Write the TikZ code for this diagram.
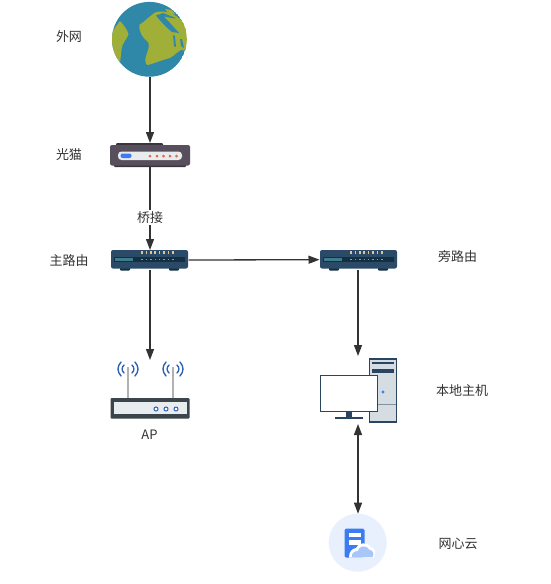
\documentclass[tikz,border=0pt]{standalone}
\usepackage{fontspec}
\setmainfont{Noto Sans CJK SC}
\usetikzlibrary{arrows.meta}
\definecolor{ink}{HTML}{333333}
\definecolor{sea}{HTML}{2F88A8}
\definecolor{land}{HTML}{A0AF38}
\definecolor{modemc}{HTML}{574F5B}
\definecolor{modemd}{HTML}{3A3340}
\definecolor{swc}{HTML}{2A4A68}
\definecolor{swd}{HTML}{12303F}
\definecolor{swl}{HTML}{3F7C8C}
\definecolor{led}{HTML}{E3C48F}
\definecolor{wifi}{HTML}{2F62B5}
\definecolor{apd}{HTML}{3A464C}
\definecolor{apl}{HTML}{E9ECEE}
\definecolor{pcb}{HTML}{2A4560}
\definecolor{pcg}{HTML}{D5DDE2}
\definecolor{cloudbg}{HTML}{E8F0FE}
\definecolor{docb}{HTML}{3B7DF0}
\definecolor{cloudl}{HTML}{A9C6F8}
\definecolor{dotc}{HTML}{E0683C}
\tikzset{
  anchorbox/.style={inner sep=0pt,outer sep=0pt,draw=none},
  lbl/.style={inner sep=0pt,text=ink,font=\fontsize{13}{15}\selectfont},
  conn/.style={draw=ink,line width=1.3pt,-{Triangle[length=11pt,width=8pt]}},
  connb/.style={draw=ink,line width=1.3pt,{Triangle[length=11pt,width=8pt]}-{Triangle[length=11pt,width=8pt]}},
}
\newcommand{\routericon}[1]{%
  \begin{scope}[shift={(#1,0)}]
    \fill[swd,rounded corners=1pt] (9,267) rectangle (19,270.5);
    \fill[swd,rounded corners=1pt] (58,267) rectangle (68,270.5);
    \fill[swc,rounded corners=2pt] (0,250) rectangle (77,268.5);
    \fill[swd] (3,257) rectangle (74,261.5);
    \fill[swl] (4,258) rectangle (22,260.5);
    \foreach \k in {0,...,7}{
      \fill[led] ({31+\k*4.4-0.8},251) rectangle ({31+\k*4.4+0.8},254);
      \fill[swl!70!white] ({31+\k*4.4-0.7},258.5) rectangle ({31+\k*4.4+0.7},260);
    }
  \end{scope}}
\newcommand{\wifiicon}[1]{%
  \begin{scope}[shift={(#1,369)},wifi,line width=1.4pt,line cap=round]
    \draw (-4,-4) .. controls (-6.5,-1.5) and (-6.5,1.5) .. (-4,4);
    \draw (4,-4) .. controls (6.5,-1.5) and (6.5,1.5) .. (4,4);
    \draw (-7,-7) .. controls (-11,-2.5) and (-11,2.5) .. (-7,7);
    \draw (7,-7) .. controls (11,-2.5) and (11,2.5) .. (7,7);
  \end{scope}}
\begin{document}
\begin{tikzpicture}[x=1pt,y=-1pt]
\useasboundingbox (0,0) rectangle (550,584);
\fill[white] (0,0) rectangle (550,584);

% anchor nodes for icons
\node[anchorbox,minimum width=75pt,minimum height=75pt] (globe) at (150,39) {};
\node[anchorbox,minimum width=80pt,minimum height=24pt] (modem) at (150,155) {};
\node[anchorbox,minimum width=77pt,minimum height=20pt] (mainr) at (150,260) {};
\node[anchorbox,minimum width=77pt,minimum height=20pt] (sider) at (358,259.7) {};
\node[anchorbox,minimum width=78pt,minimum height=58pt] (ap) at (150,389) {};
\node[anchorbox,minimum width=77pt,minimum height=68pt] (pc) at (358,390) {};
\node[anchorbox,minimum width=58pt,minimum height=58pt] (cloud) at (358,542.7) {};

% globe
\begin{scope}
  \clip (149.4,39.3) circle (37.4);
  \fill[sea] (149.4,39.3) circle (37.4);
  \fill[land] (139.3,25) .. controls (145,21) and (150,16) .. (155,12.5)
     .. controls (163,10) and (172,12) .. (180,19) -- (190,30) -- (190,51)
     -- (181,50) .. controls (177,52) and (175,55) .. (170,58)
     .. controls (162,60) and (155,63) .. (148,65) .. controls (145,65) and (145,60) .. (146,56)
     .. controls (148,50) and (150,46) .. (148,42) .. controls (143,38) and (139,33) .. (139.3,25) -- cycle;
  \fill[land] (110,36) .. controls (113,30) and (117,25) .. (120,21)
     .. controls (123,24) and (128,31) .. (128.5,34) .. controls (127,40) and (122,42) .. (121.5,50)
     -- (120,63) .. controls (116,57) and (112,50) .. (110,45) -- cycle;
  \fill[sea] (156,15.5) -- (163,13) -- (176,18) -- (172,18) -- (164,16.5) -- (170,23) -- (179,33) -- (172,32)
     .. controls (167,28) and (162,23) .. (156,15.5) -- cycle;
  \fill[land] (165,9) -- (172,10) -- (175,14) -- (170,15.5) -- cycle;
  \fill[sea] (173,35) -- (175,36) -- (176,47) -- (174,46) -- cycle;
  \fill[sea] (180,39) -- (182,39) -- (184,48) -- (181,46) -- cycle;
\end{scope}

% modem
\fill[modemd,rounded corners=1pt] (116,143) rectangle (163,147);
\fill[modemd,rounded corners=1pt] (114,163) rectangle (186,167);
\fill[modemc,rounded corners=2pt] (110,145) rectangle (190,165.5);
\fill[apl,rounded corners=3.5pt] (118,151.5) rectangle (182,160);
\fill[docb,rounded corners=2pt] (120.5,153.5) rectangle (131.5,158);
\foreach \x in {150,157,163.5,170,176.5}{\fill[dotc] (\x,156) circle (1.5);}

% routers
\routericon{111}
\routericon{320}

% AP
\draw[line width=1.2pt,black!30] (128,367) -- (128,398);
\draw[line width=1.2pt,black!30] (173,367) -- (173,398);
\wifiicon{128}
\wifiicon{173}
\fill[apd,rounded corners=1pt] (110.5,398) rectangle (189.5,418.5);
\fill[apl] (113.5,402) rectangle (186.5,414);
\foreach \x in {156,166,176}{\draw[wifi,line width=1pt,fill=white] (\x,409) circle (2);}

% PC
\fill[pcb] (369,358) rectangle (397,423);
\fill[pcg] (370,360) rectangle (396,420.5);
\fill[pcb] (372,362) rectangle (393.5,364);
\fill[pcb] (372,369) rectangle (393.5,372.5);
\fill[pcb!50!pcg] (370,404) rectangle (396,405);
\fill[docb] (383,392) circle (1.6);
\fill[pcb] (346,411) rectangle (352,417);
\fill[pcb] (335,416.5) rectangle (363,418.5);
\draw[draw=pcb,fill=white,line width=1pt] (320.5,375.5) rectangle (377.5,411.5);

% cloud icon
\fill[cloudbg] (357.7,542.7) circle (29);
\fill[docb,rounded corners=1.5pt] (344.5,528.5) rectangle (364.5,557.5);
\fill[white] (348.5,532.5) rectangle (361,537);
\fill[white] (348.5,540) rectangle (361,544.5);
\fill[white] (349,557.5) .. controls (349,551) and (352,549) .. (356,548)
  .. controls (357,543) and (368,541) .. (371,547)
  .. controls (375,548) and (376,553) .. (374,557.5) -- cycle;
\fill[cloudl] (352,557) .. controls (351,553) and (355,551) .. (358,551)
  .. controls (358,546) and (367,544) .. (369.5,550)
  .. controls (373,550) and (374.5,554) .. (372.5,557) -- cycle;

% labels
\node[lbl] (l1) at (69,37) {外网};
\node[lbl] (l2) at (69,155) {光猫};
\node[lbl] (l3) at (69,261) {主路由};
\node[lbl] (l4) at (457.5,256) {旁路由};
\node[lbl] (l5) at (149.5,435) {AP};
\node[lbl] (l6) at (462,391) {本地主机};
\node[lbl] (l7) at (458,544) {网心云};

% connectors
\draw[conn] (globe.south) -- (modem.north);
\draw[conn] (modem.south) -- node[lbl,pos=.612,fill=white,inner sep=1.5pt] (bridge) {桥接} (mainr.north);
\draw[conn] (mainr.east) -- (sider.west);
\draw[conn] (mainr.south) -- (ap.north);
\draw[conn] (sider.south) -- (pc.north);
\draw[connb] (pc.south) -- (cloud.north);
\end{tikzpicture}
\end{document}
